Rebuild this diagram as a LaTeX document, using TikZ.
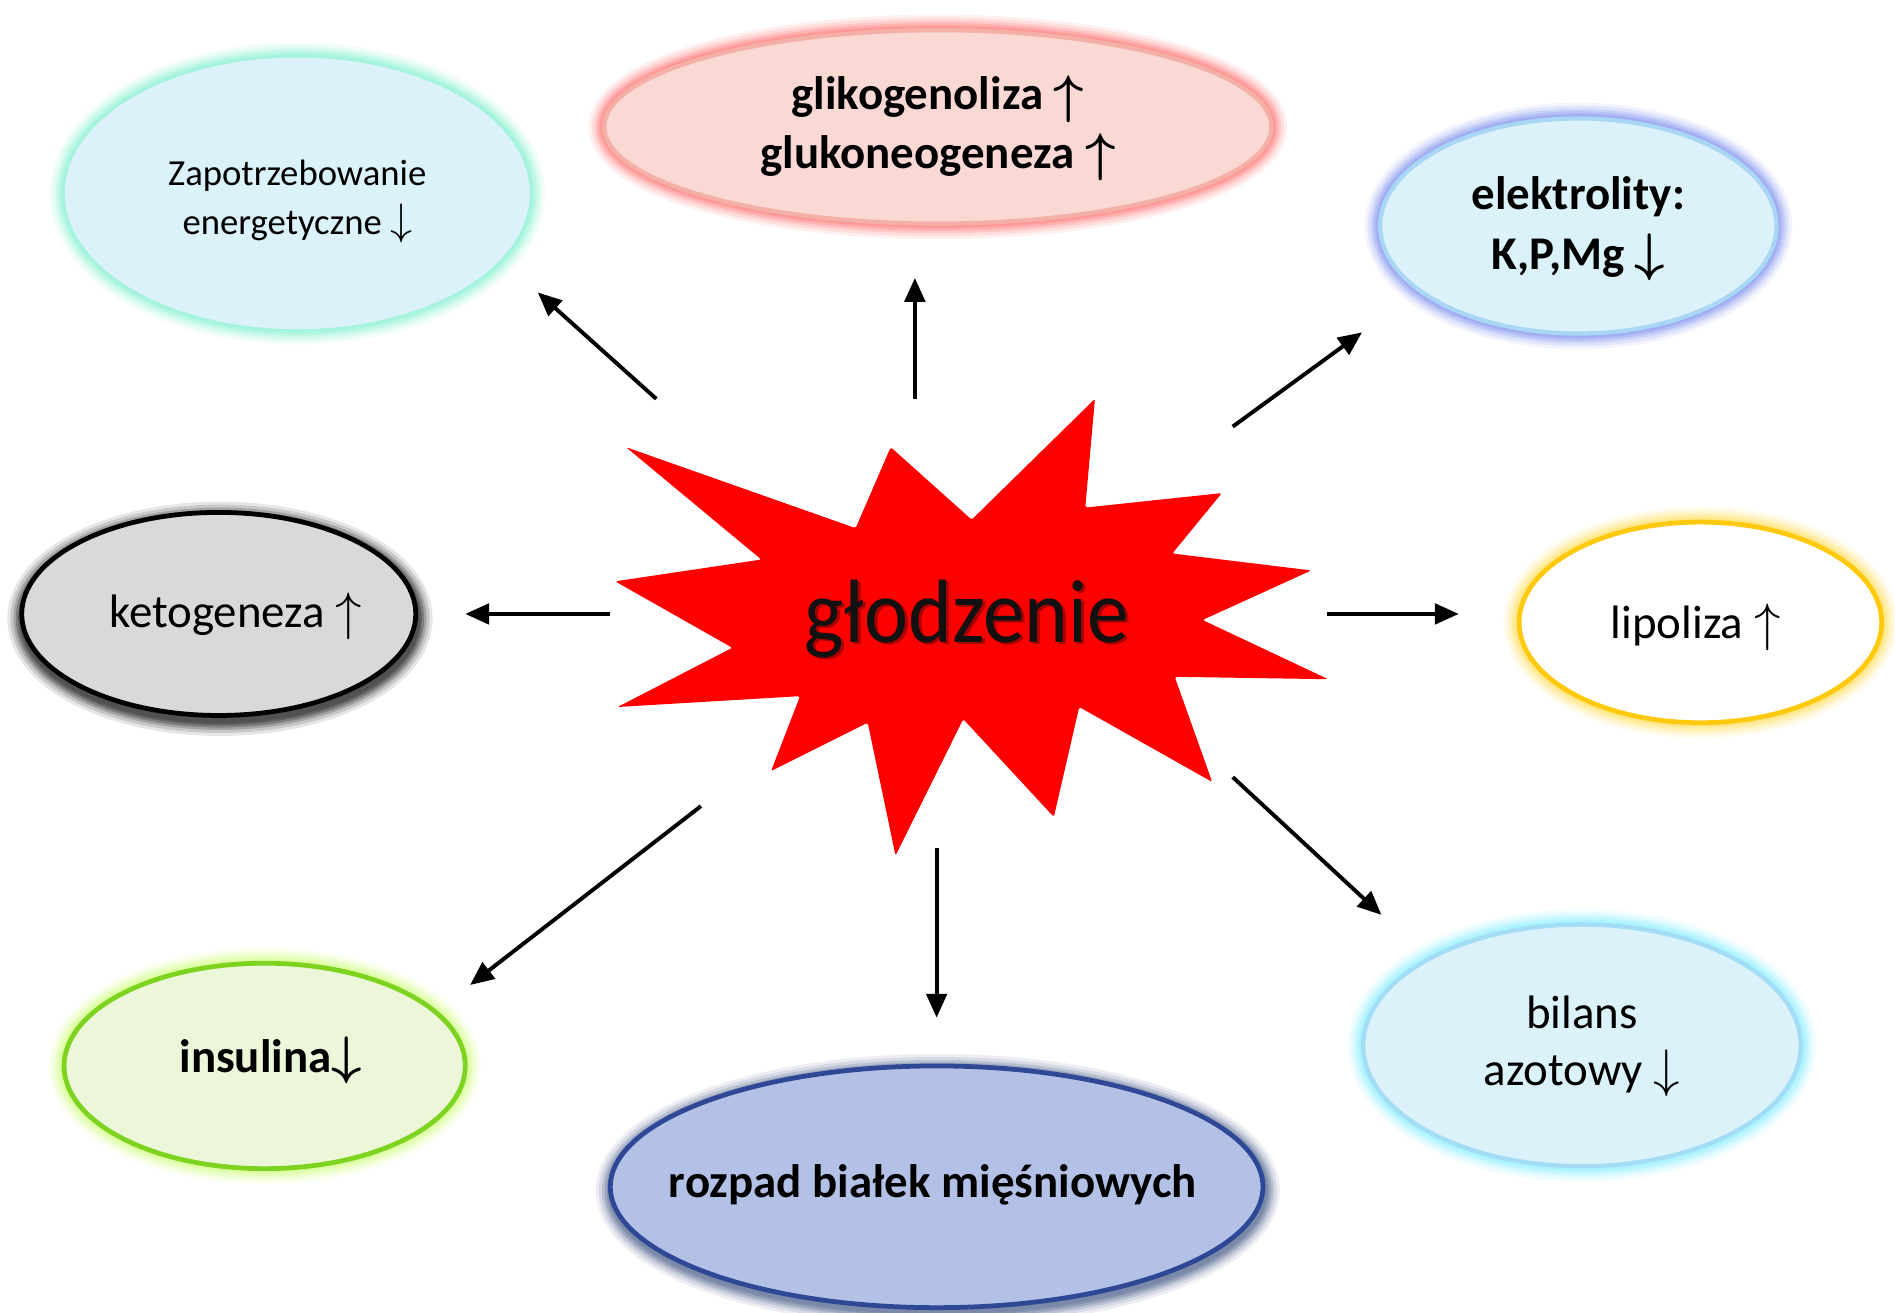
\documentclass[tikz,border=0pt]{standalone}
\usepackage{fontspec}
\setmainfont{Carlito}
\usetikzlibrary{arrows.meta}
\definecolor{lblue}{HTML}{DCF2FA}
\definecolor{zapglow}{HTML}{A4F3DC}
\definecolor{glfill}{HTML}{FAD9D5}
\definecolor{glborder}{HTML}{F4B0A6}
\definecolor{glglow}{HTML}{FF9494}
\definecolor{elborder}{HTML}{A9D6F5}
\definecolor{elglow}{HTML}{9CA9F2}
\definecolor{ketofill}{HTML}{D9D9D9}
\definecolor{ketoglow}{HTML}{505050}
\definecolor{lipoborder}{HTML}{FFC90E}
\definecolor{lipoglow}{HTML}{FFE682}
\definecolor{insfill}{HTML}{EBF7D8}
\definecolor{insborder}{HTML}{7ED321}
\definecolor{insglow}{HTML}{DCFFA0}
\definecolor{rozfill}{HTML}{B4C1E7}
\definecolor{rozborder}{HTML}{2E4896}
\definecolor{rozglow}{HTML}{7A88A8}
\definecolor{bilborder}{HTML}{A3DDF5}
\definecolor{bilglow}{HTML}{A8F2FF}
\definecolor{starred}{HTML}{FF0000}
\definecolor{startext}{HTML}{111111}
\newcommand\glowring[4]{%
  \foreach \w/\o in {26/0.14, 21/0.2, 16/0.3, 12/0.45, 8/0.7, 5/0.9}{%
    \draw[draw=#4,line width=\w*0.709pt,opacity=\o] (#1) ellipse [x radius={#2*0.025cm}, y radius={#3*0.025cm}];}}
\newcommand\bubblefill[6]{% center, rx, ry, fill, draw, width
  \draw[fill=#4, draw=#5, line width=#6] (#1) ellipse [x radius={#2*0.025cm}, y radius={#3*0.025cm}];}
\newcommand\uarr{\raisebox{-0.05em}{\scalebox{1.25}{$\uparrow$}}}
\newcommand\darr{\raisebox{-0.02em}{\scalebox{1.25}{$\downarrow$}}}
\tikzset{
  lbl/.style={align=center, text=black, inner sep=0pt},
  txtbig/.style={font=\fontsize{27.6}{33.3}\selectfont},
  txtbold/.style={font=\fontsize{27.6}{34.5}\selectfont\bfseries\boldmath},
  txtsmall/.style={font=\fontsize{21.6}{28.5}\selectfont},
  conn/.style={line width=2.3pt, -{Triangle[length=14pt,width=12pt]}},
}
\begin{document}
\begin{tikzpicture}[x=0.025cm,y=-0.025cm]
\useasboundingbox (0,0) rectangle (1568,1086);

% --- centres
\coordinate (czap) at (246,160);
\coordinate (cgl) at (776,105);
\coordinate (cel) at (1306,187);
\coordinate (cke) at (181,508);
\coordinate (ckes) at (182,512);
\coordinate (cli) at (1407,515);
\coordinate (cin) at (219,882);
\coordinate (cro) at (775,982);
\coordinate (cros) at (776,985);
\coordinate (cbi) at (1309,865);

% --- glows
\glowring{czap}{192}{112}{zapglow}
\glowring{cgl}{276}{80}{glglow}
\glowring{cel}{164}{89}{elglow}
\glowring{ckes}{163}{84}{ketoglow}
\glowring{cli}{150}{83}{lipoglow}
\glowring{cin}{166}{85}{insglow}
\glowring{cros}{270}{100}{rozglow}
\glowring{cbi}{181}{100}{bilglow}

% --- bubbles
\bubblefill{czap}{192}{112}{lblue}{lblue}{0.5pt}
\bubblefill{cgl}{276}{80}{glfill}{glborder}{2.5pt}
\bubblefill{cel}{164}{89}{lblue}{elborder}{2.5pt}
\bubblefill{cke}{163}{84}{ketofill}{black}{2.8pt}
\bubblefill{cli}{150}{83}{white}{lipoborder}{2.8pt}
\bubblefill{cin}{166}{85}{insfill}{insborder}{2.8pt}
\bubblefill{cro}{270}{100}{rozfill}{rozborder}{2.8pt}
\bubblefill{cbi}{181}{100}{lblue}{bilborder}{2.5pt}

% --- labels
\node[lbl, txtsmall] (zap) at (246,167) {Zapotrzebowanie\\energetyczne \darr};
\node[lbl, txtbold] (gl) at (776,106) {glikogenoliza \uarr\\glukoneogeneza \uarr};
\node[lbl, txtbold, font=\fontsize{27.6}{35.5}\selectfont\bfseries\boldmath] (el) at (1306,189) {elektrolity:\\K,P,Mg \darr};
\node[lbl, txtbig] (ke) at (195,510) {ketogeneza \uarr};
\node[lbl, txtbig] (li) at (1403,519) {lipoliza \uarr};
\node[lbl, txtbold] (in) at (224,877) {insulina\darr};
\node[lbl, txtbold] (ro) at (772,980) {rozpad białek mięśniowych};
\node[lbl, txtbig] (bi) at (1309,866) {bilans\\azotowy \darr};

% --- star
\fill[starred, rounded corners=1pt] (518,370) -- (708,437) -- (737,370) -- (804,430) -- (906,330) -- (898,420) -- (1011,408) -- (970,458) -- (1085,472) -- (995,513) -- (1099,562) -- (972,560) -- (1003,647) -- (893,585) -- (872,676) -- (797,595) -- (741,708) -- (718,598) -- (638,638) -- (662,576) -- (511,585) -- (606,536) -- (509,481) -- (630,463) -- cycle;
\node[text=black, opacity=0.35, font=\fontsize{49}{55}\selectfont, yscale=1.08] (shadow) at (802.5,514) {głodzenie};
\node[text=startext, font=\fontsize{49}{55}\selectfont, yscale=1.08] (center) at (800,512) {głodzenie};

% --- connectors
\coordinate (s1) at (543,330); \coordinate (e1) at (445,242);
\coordinate (s2) at (757,330); \coordinate (e2) at (757,230);
\coordinate (s3) at (1020,353); \coordinate (e3) at (1127,275);
\coordinate (s4) at (505,508); \coordinate (e4) at (385,508);
\coordinate (s5) at (1098,508); \coordinate (e5) at (1207,508);
\coordinate (s6) at (580,667); \coordinate (e6) at (389,815);
\coordinate (s7) at (775,702); \coordinate (e7) at (775,842);
\coordinate (s8) at (1020,643); \coordinate (e8) at (1143,757);
\foreach \i in {1,...,8}{\draw[conn] (s\i) -- (e\i);}
\end{tikzpicture}
\end{document}
